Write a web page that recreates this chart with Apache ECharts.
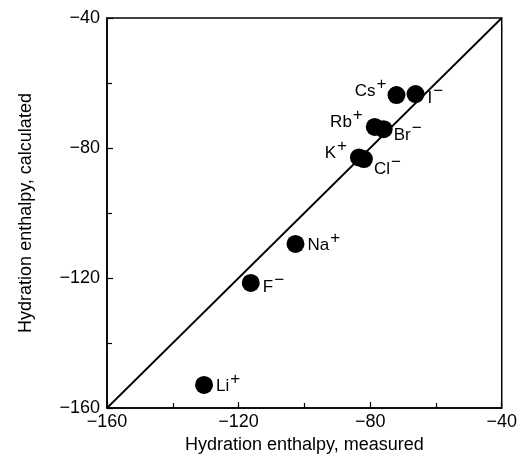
<!DOCTYPE html>
<html>
<head>
<meta charset="utf-8">
<script src="https://cdn.jsdelivr.net/npm/echarts@6/dist/echarts.min.js"></script>
<style>
  html, body { margin: 0; padding: 0; background: #fff; }
  #chart { width: 520px; height: 462px; }
</style>
</head>
<body>
<div id="chart"></div>
<script>
    // ions and their charge sign
    const ions = ['Li', 'Na', 'K', 'Rb', 'Cs', 'F', 'Cl', 'Br', 'I'];
    const charges = ['+', '+', '+', '+', '+', '\u2212', '\u2212', '\u2212', '\u2212'];
    // hydration enthalpy (measured vs calculated)
    const measured = [-130.5, -102.7, -83.4, -78.6, -72.0, -116.3, -81.9, -75.9, -66.2];
    const calculated = [-152.9, -109.5, -82.9, -73.5, -63.7, -121.5, -83.4, -74.2, -63.4];
    // y = x reference line ends
    const diagonal = [-160, -40];
    const axisTicks = [-160, -120, -80, -40];

    // where each label sits round its dot
    const labelPlace = {
        Li: {position: 'right', offset: [0, 1]},
        Na: {position: 'right', offset: [0, 1]},
        K: {position: 'left', offset: [0, -4]},
        Rb: {position: 'left', offset: [0, -5]},
        Cs: {position: 'left', offset: [2, -4]},
        F: {position: 'right', offset: [0, 4]},
        Cl: {position: 'right', offset: [-2, 10]},
        Br: {position: 'right', offset: [-2, 6]},
        I: {position: 'right', offset: [0, 4]}
    };

    const fontFam = '"Liberation Sans", Arial, sans-serif';
    const minus = v => String(v).replace('-', '\u2212');

    let datas = [];
    for (var i = 0; i < ions.length; i++) {
        const place = labelPlace[ions[i]];
        datas.push({
            name: ions[i],
            value: [measured[i], calculated[i]],
            label: {
                show: true,
                position: place.position,
                offset: place.offset,
                distance: 3,
                formatter: '{n|' + ions[i] + '}{s|' + charges[i] + '}'
            }
        });
    }

    const chart = echarts.init(document.getElementById('chart'));
    const option = {
        backgroundColor: '#fff',
        animation: false,
        grid: {
            left: 107, right: 15, top: 18, bottom: 54,
            show: true, borderColor: '#000', borderWidth: 1.5
        },
        xAxis: {
            type: 'value', min: axisTicks[0], max: axisTicks[axisTicks.length - 1], interval: 40,
            name: 'Hydration enthalpy, measured',
            nameLocation: 'middle', nameGap: 27,
            nameTextStyle: {fontSize: 18, color: '#000', fontFamily: fontFam},
            axisLine: {show: true, lineStyle: {color: '#000', width: 1.5}},
            axisTick: {show: true, inside: true, length: 6, lineStyle: {color: '#000', width: 1.2}},
            minorTick: {show: true, splitNumber: 2, length: 5, lineStyle: {color: '#000', width: 1.2}},
            splitLine: {show: false},
            axisLabel: {fontSize: 18, color: '#000', fontFamily: fontFam, margin: 5, formatter: minus}
        },
        yAxis: {
            type: 'value', min: axisTicks[0], max: axisTicks[axisTicks.length - 1], interval: 40,
            name: 'Hydration enthalpy, calculated',
            nameLocation: 'middle', nameGap: 72,
            nameTextStyle: {fontSize: 18, color: '#000', fontFamily: fontFam},
            axisLine: {show: true, lineStyle: {color: '#000', width: 1.5}},
            axisTick: {show: true, inside: true, length: 6, lineStyle: {color: '#000', width: 1.2}},
            minorTick: {show: true, splitNumber: 2, length: 5, lineStyle: {color: '#000', width: 1.2}},
            splitLine: {show: false},
            axisLabel: {fontSize: 18, color: '#000', fontFamily: fontFam, margin: 7, formatter: minus}
        },
        series: [{
            type: 'line',
            data: [[diagonal[0], diagonal[0]], [diagonal[1], diagonal[1]]],
            symbol: 'none',
            lineStyle: {color: '#000', width: 1.8},
            z: 1
        }, {
            type: 'scatter',
            symbolSize: 18,
            itemStyle: {color: '#000', opacity: 1},
            label: {
                color: '#000',
                rich: {
                    n: {fontSize: 17, fontFamily: fontFam, color: '#000'},
                    s: {fontSize: 17, fontFamily: fontFam, color: '#000', padding: [0, 0, 14, 1]}
                }
            },
            data: datas,
            z: 2
        }]
    };
    chart.setOption(option);
</script>
</body>
</html>
